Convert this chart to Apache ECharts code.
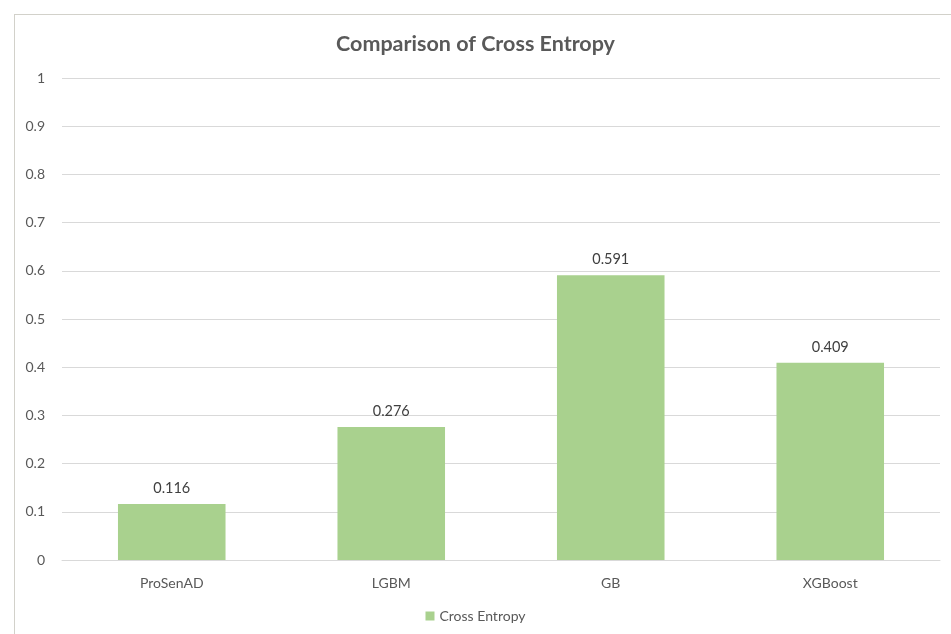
<!DOCTYPE html>
<html>
<head>
<meta charset="UTF-8">
<script src="https://cdn.jsdelivr.net/npm/echarts@6/dist/echarts.min.js"></script>
<style>
  html, body { margin: 0; padding: 0; background: #fff; }
  #frame {
    position: absolute; left: 14px; top: 14px; width: 960px; height: 640px;
    border-left: 1px solid #d2d1ca; border-top: 1px solid #d2d1ca;
  }
  #main { position: absolute; left: 0; top: 0; width: 951px; height: 634px; }
</style>
</head>
<body>
<div id="frame"></div>
<div id="main"></div>
<script>
  var categories = ['ProSenAD', 'LGBM', 'GB', 'XGBoost'];
  var crossEntropy = [0.116, 0.276, 0.591, 0.409];
  var yTicks = [0, 0.1, 0.2, 0.3, 0.4, 0.5, 0.6, 0.7, 0.8, 0.9, 1];

  var font = 'Lato, "Open Sans", sans-serif';
  var chart = echarts.init(document.getElementById('main'));

  chart.setOption({
    animation: false,
    title: {
      text: 'Comparison of Cross Entropy',
      left: 'center',
      top: 28,
      textStyle: { fontFamily: font, fontSize: 21.5, fontWeight: 'bold', color: '#595959' }
    },
    legend: {
      bottom: 6,
      left: 'center',
      itemWidth: 9,
      itemHeight: 9,
      icon: 'rect',
      textStyle: { fontFamily: font, fontSize: 14, color: '#595959' },
      data: ['Cross Entropy']
    },
    grid: { left: 62, right: 11, top: 78, bottom: 74 },
    xAxis: {
      type: 'category',
      data: categories,
      axisLine: { lineStyle: { color: '#d9d9d9' } },
      axisTick: { show: false },
      axisLabel: { fontFamily: font, fontSize: 14, color: '#595959', margin: 16 }
    },
    yAxis: {
      type: 'value',
      min: yTicks[0],
      max: yTicks[yTicks.length - 1],
      interval: 0.1,
      axisLine: { show: false },
      axisTick: { show: false },
      splitLine: { lineStyle: { color: '#d9d9d9' } },
      axisLabel: {
        fontFamily: font, fontSize: 14, color: '#595959', margin: 17,
        formatter: function (v) { return String(Math.round(v * 10) / 10); }
      }
    },
    series: [{
      name: 'Cross Entropy',
      type: 'bar',
      data: crossEntropy,
      barWidth: '49%',
      itemStyle: { color: '#a9d18e' },
      label: {
        show: true,
        position: 'top',
        distance: 8,
        fontFamily: font, fontSize: 14.5, color: '#404040'
      }
    }]
  });
</script>
</body>
</html>
